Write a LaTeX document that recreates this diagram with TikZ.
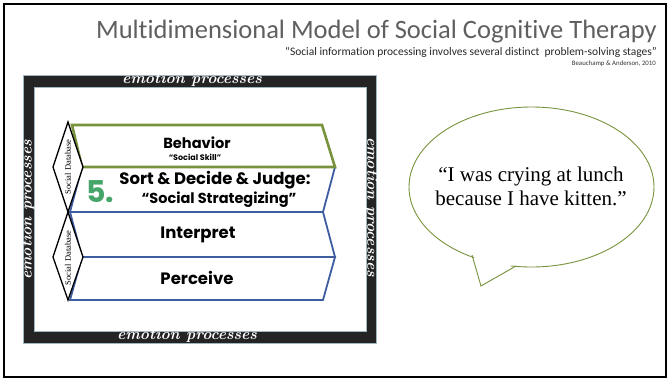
\documentclass[tikz,border=0pt]{standalone}
\usepackage{fontspec}
\newfontfamily\titlefont{Carlito}[Ligatures=NoCommon]
\newfontfamily\boxfont{Poppins}
\newfontfamily\bubblefont{Liberation Serif}
\usetikzlibrary{shapes.geometric}
\definecolor{framedark}{RGB}{36,36,36}
\definecolor{frameedge}{RGB}{160,182,192}
\definecolor{bandblue}{RGB}{62,92,160}
\definecolor{bandgreen}{RGB}{119,147,60}
\definecolor{fivegreen}{RGB}{70,165,105}
\definecolor{titlegray}{RGB}{95,95,95}
\begin{document}
\begin{tikzpicture}[x=1pt,y=-1pt,
  emo/.style={text=white,font=\fontsize{15.5}{15.5}\selectfont\bfseries\itshape,inner sep=0pt},
  blueband/.style={draw=bandblue,line width=1.8pt,fill=white,line join=miter},
  greenband/.style={draw=bandgreen,line width=2.6pt,line join=miter},
  dbox/.style={draw=black,line width=1.3pt,fill=white},
  dbtext/.style={font=\bubblefont\fontsize{8.5}{8.5}\selectfont,inner sep=0pt},
  bigl/.style={font=\boxfont\bfseries\fontsize{16.5}{16.5}\selectfont,inner sep=0pt},
  bubble/.style={draw=bandgreen,line width=0.9pt}]
\useasboundingbox (0,0) rectangle (670,381);
\draw[line width=2pt] (4,4) rectangle (666,377);
% title
\node[font=\titlefont\fontsize{26.5}{26.5}\selectfont,text=titlegray,anchor=base east,inner sep=0pt] (title) at (657,38) {Multidimensional Model of Social Cognitive Therapy};
\node[font=\titlefont\fontsize{11.5}{11.5}\selectfont,text=black!85,anchor=base east,inner sep=0pt] (subtitle) at (657,55) {“Social information processing involves several distinct \ problem-solving stages”};
\node[font=\titlefont\fontsize{6.8}{6.8}\selectfont,text=black!80,anchor=base east,inner sep=0pt] (cite) at (656,65) {Beauchamp \& Anderson, 2010};
% frame
\fill[framedark,even odd rule] (23,75) rectangle (376,343) (34,87) rectangle (366,331);
\draw[frameedge,line width=0.8pt] (23,75) rectangle (376,343);
\draw[frameedge,line width=0.8pt] (34,87) rectangle (366,331);
\node[emo] (emotop) at (192,80) {emotion processes};
\node[emo] (emobot) at (187,336) {emotion processes};
\node[emo,rotate=90] (emoleft) at (28,210) {emotion processes};
\node[emo,rotate=-90] (emoright) at (371,207) {emotion processes};
% bands
\draw[blueband] (82,167) -- (335,167) -- (323,212) -- (70,212) -- cycle;
\draw[blueband] (70,212) -- (323,212) -- (335,257) -- (82,257) -- cycle;
\draw[blueband] (82,257) -- (335,257) -- (323,300) -- (70,300) -- cycle;
\draw[greenband] (72,125) -- (322,125) -- (335,167) -- (82,167) -- cycle;
% diamonds
\draw[dbox] (68,122) -- (83,167) -- (68,212) -- (53,167) -- cycle;
\draw[dbox] (68,212) -- (83,257) -- (68,300) -- (53,257) -- cycle;
\node[dbtext,rotate=90] (db1) at (68,167) {Social Database};
\node[dbtext,rotate=90] (db2) at (68,258) {Social Database};
% labels
\node[font=\boxfont\bfseries\fontsize{14.6}{14.6}\selectfont,inner sep=0pt] (beh) at (197,143) {Behavior};
\node[font=\boxfont\bfseries\fontsize{8}{8}\selectfont,inner sep=0pt] (behs) at (195,157) {“Social Skill”};
\node[font=\boxfont\bfseries\fontsize{30}{30}\selectfont,text=fivegreen,inner sep=0pt] (five) at (100,192) {5.};
\node[bigl] (sort) at (215,180) {Sort \& Decide \& Judge:};
\node[font=\boxfont\bfseries\fontsize{14.5}{14.5}\selectfont,inner sep=0pt] (sorts) at (219,200) {“Social Strategizing”};
\node[bigl] (interp) at (198,235) {Interpret};
\node[bigl] (perc) at (197,278) {Perceive};
% speech bubble
\node[ellipse,bubble,minimum width=245pt,minimum height=160pt,inner sep=0pt] (bubble) at (531.5,187) {};
\coordinate (tA) at (472,255);
\coordinate (tip) at (481,286);
\coordinate (tB) at (516,266);
\fill[white] (473,252) -- (tip) -- (515,263) -- cycle;
\draw[bubble,line join=miter] (tA) -- (tip) -- (tB);
\node[font=\bubblefont\fontsize{21}{24}\selectfont,align=center,inner sep=0pt] (quote) at (531,186) {“I was crying at lunch\\because I have kitten.”};
\end{tikzpicture}
\end{document}
